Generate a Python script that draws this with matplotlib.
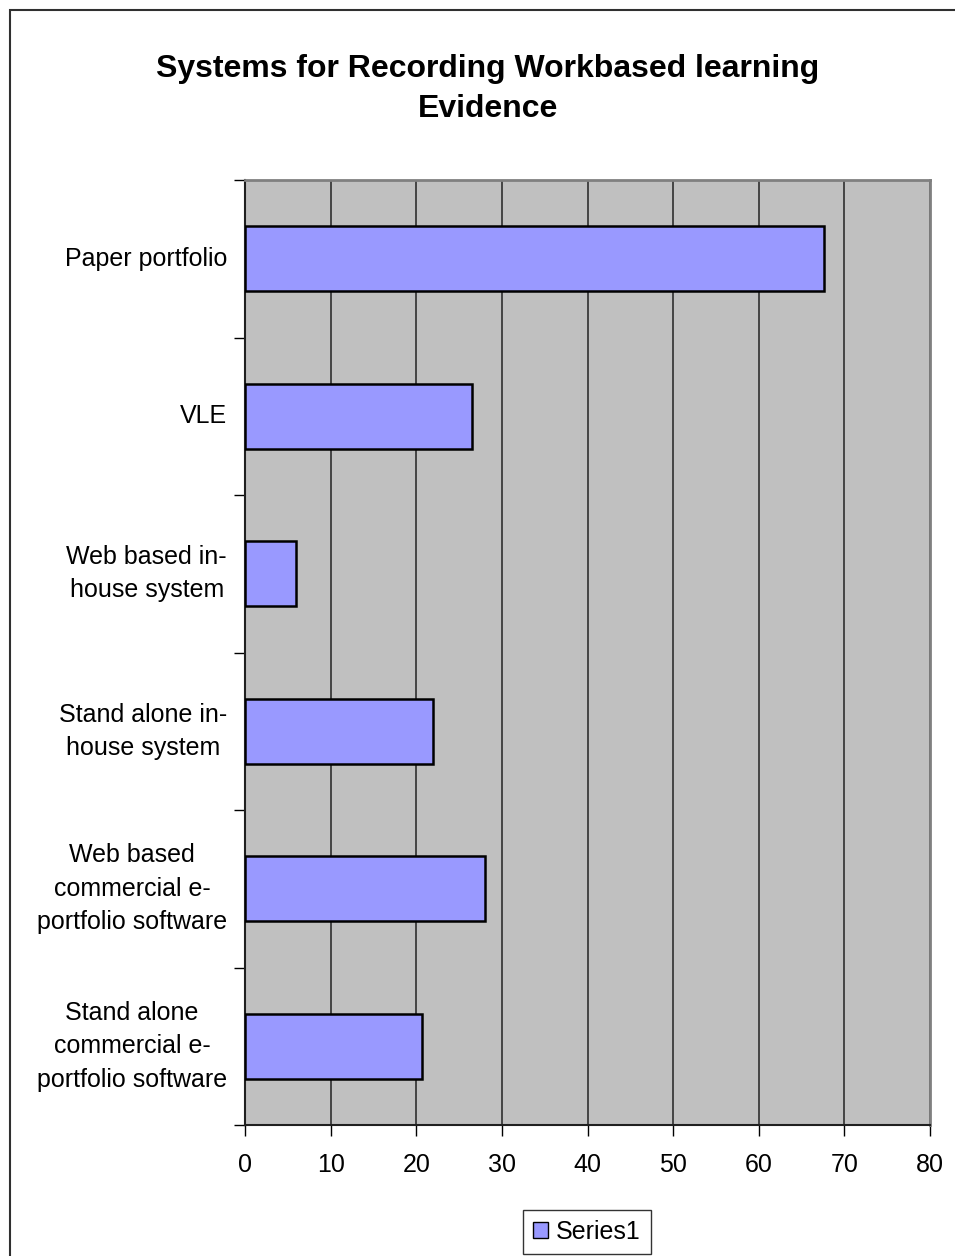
import numpy as np
import matplotlib
matplotlib.use('Agg')
import matplotlib.pyplot as plt
from matplotlib.patches import Rectangle

plt.rcParams['font.family'] = ['Liberation Sans', 'DejaVu Sans']

# Data
categories = ['Paper portfolio', 'VLE', 'Web based in-\nhouse system',
              'Stand alone in-\nhouse system',
              'Web based\ncommercial e-\nportfolio software',
              'Stand alone\ncommercial e-\nportfolio software']
values = [67.6, 26.5, 6.0, 22.0, 28.0, 20.7]
x_ticks = [0, 10, 20, 30, 40, 50, 60, 70, 80]

fig = plt.figure(figsize=(9.55, 12.56), dpi=100)
ax = fig.add_axes([245/955, 1 - 1125/1256, 685/955, 945/1256])

# outer chart border
fig.patches.append(Rectangle((10/955, -0.1), 1.2, 1 - 10/1256 + 0.1,
                             transform=fig.transFigure, fill=False,
                             edgecolor='#303030', linewidth=1.5))

ax.set_facecolor('#C0C0C0')
pos = np.arange(len(categories))
ax.barh(pos, values, height=0.41, color='#9999FF', edgecolor='black',
        linewidth=1.8, zorder=3, label='Series1')

ax.set_xlim(0, 80)
ax.set_ylim(len(categories) - 0.5, -0.5)
ax.set_xticks(x_ticks)
ax.set_xticklabels([str(t) for t in x_ticks], fontsize=18)
ax.tick_params(axis='x', length=8, width=1, pad=12, color='black')
ax.xaxis.grid(True, color='#3a3a3a', linewidth=1.3, zorder=1)

# boundary ticks as major, labels as minor
ax.set_yticks(np.arange(len(categories) + 1) - 0.5)
ax.set_yticklabels([])
ax.set_yticks(pos, minor=True)
ax.set_yticklabels(categories, minor=True, fontsize=18, multialignment='center',
                   linespacing=1.5)
for lbl in ax.get_yticklabels(minor=True):
    lbl.set_va('center')
ax.tick_params(axis='y', which='major', length=8, width=1, color='black')
ax.tick_params(axis='y', which='minor', length=0, pad=13)

for side in ['top', 'right']:
    ax.spines[side].set_color('#808080')
    ax.spines[side].set_linewidth(2)
for side in ['left', 'bottom']:
    ax.spines[side].set_color('#202020')
    ax.spines[side].set_linewidth(1.5)

fig.text(0.511, 1 - 89/1256, 'Systems for Recording Workbased learning\nEvidence',
         ha='center', va='center', fontsize=23, fontweight='bold', linespacing=1.4)

leg = fig.legend(loc='center', bbox_to_anchor=(587/955, 1 - 1232/1256),
                 fontsize=18, frameon=True, fancybox=False, handlelength=0.6,
                 handleheight=0.6, handletextpad=0.3, borderpad=0.4)
leg.get_frame().set_edgecolor('black')
leg.get_frame().set_linewidth(1)
leg.legend_handles[0].set_linewidth(1)

fig.savefig('out.png', dpi=100)
